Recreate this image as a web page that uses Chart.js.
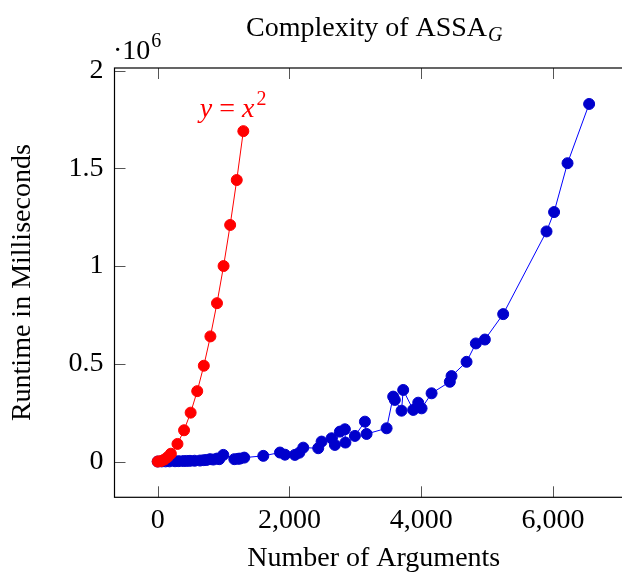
<!DOCTYPE html>
<html>
<head>
<meta charset="utf-8">
<script src="https://cdn.jsdelivr.net/npm/chart.js@4"></script>
<style>
  html, body { margin: 0; padding: 0; background: #fff; overflow: hidden; }
  #wrap { width: 660px; height: 573px; }
</style>
</head>
<body>
<div id="wrap"><canvas id="chart"></canvas></div>
<script>
// Measured runtimes (ms) against number of arguments
const argCounts = [0, 60, 120, 180, 263, 320, 389, 440, 490, 560, 642, 700, 743, 794, 844, 900, 935, 996,
  1163, 1220, 1249, 1314, 1603, 1856, 1932, 2083, 2150, 2210, 2437, 2488, 2640, 2690, 2766, 2842, 2850,
  2994, 3146, 3171, 3475, 3575, 3600, 3702, 3727, 3879, 3955, 4006, 4158, 4435, 4461, 4689, 4830, 4967,
  5245, 5903, 6018, 6222, 6550];
const runtimes = [0, 500, 800, 1000, 1500, 2000, 2500, 3000, 3500, 4000, 5000, 7000, 8000, 12000, 10000, 15000, 12000, 34000,
  12000, 14000, 15000, 20000, 29000, 46000, 35000, 34000, 45000, 71000, 68000, 102000, 119000, 85000, 153000, 165000, 97000,
  131000, 204000, 141000, 170000, 332000, 315000, 260000, 366000, 264000, 301000, 272000, 349000, 408000, 437000, 510000, 604000, 624000,
  754000, 1177000, 1276000, 1526000, 1829000];

// Reference curve y = x^2
const quadX = [0, 50, 100, 150, 200, 300, 400, 500, 600, 700, 800, 900, 1000, 1100, 1200, 1300];
const quadY = [0, 2500, 10000, 22500, 40000, 90000, 160000, 250000, 360000, 490000, 640000, 810000, 1000000, 1210000, 1440000, 1690000];

const xTicks = [0, 2000, 4000, 6000];
const yTicks = [0, 500000, 1000000, 1500000, 2000000];

const SERIF = '"Liberation Serif", "Times New Roman", serif';
const FS = 28;

function toPoints(xs, ys) {
  return xs.map((x, i) => ({ x, y: ys[i] }));
}

// frame, inward ticks, title, exponent and the y = x^2 label
const decorations = {
  id: 'decorations',
  afterDraw(chart) {
    const { ctx, chartArea: a, scales } = chart;
    const xs = scales.x, ys = scales.y;
    const TL = 11;
    ctx.save();
    ctx.strokeStyle = '#555';
    ctx.lineWidth = 1;
    ctx.beginPath();
    for (const v of xTicks) {
      const px = Math.round(xs.getPixelForValue(v)) + 0.5;
      ctx.moveTo(px, a.bottom); ctx.lineTo(px, a.bottom - TL);
      ctx.moveTo(px, a.top); ctx.lineTo(px, a.top + TL);
    }
    for (const v of yTicks) {
      const py = Math.round(ys.getPixelForValue(v)) + 0.5;
      ctx.moveTo(a.left, py); ctx.lineTo(a.left + TL, py);
      ctx.moveTo(a.right, py); ctx.lineTo(a.right - TL, py);
    }
    ctx.stroke();
    ctx.strokeStyle = '#000';
    ctx.lineWidth = 1.2;
    ctx.strokeRect(a.left, a.top, a.right - a.left, a.bottom - a.top);

    // title with subscript
    ctx.fillStyle = '#000';
    ctx.textBaseline = 'alphabetic';
    ctx.textAlign = 'left';
    const main = 'Complexity of ASSA';
    const subSize = Math.round(FS * 0.72);
    ctx.font = FS + 'px ' + SERIF;
    const wMain = ctx.measureText(main).width;
    ctx.font = 'italic ' + subSize + 'px ' + SERIF;
    const wSub = ctx.measureText('G').width;
    const tx = (a.left + a.right) / 2 - (wMain + wSub) / 2;
    ctx.font = FS + 'px ' + SERIF;
    ctx.fillText(main, tx, 36);
    ctx.font = 'italic ' + subSize + 'px ' + SERIF;
    ctx.fillText('G', tx + wMain + 1, 41);

    // exponent marker
    ctx.font = FS + 'px ' + SERIF;
    ctx.fillText('\u00b710', 113, 59);
    const w10 = ctx.measureText('\u00b710').width;
    ctx.font = subSize + 'px ' + SERIF;
    ctx.fillText('6', 113 + w10 + 1, 47);

    // y = x^2 label
    ctx.fillStyle = '#ff0000';
    let lx = xs.getPixelForValue(640);
    const ly = ys.getPixelForValue(1760000);
    const parts = [['italic ', 'y'], ['', ' = '], ['italic ', 'x']];
    for (const [st, t] of parts) {
      ctx.font = st + FS + 'px ' + SERIF;
      ctx.fillText(t, lx, ly);
      lx += ctx.measureText(t).width;
    }
    ctx.font = subSize + 'px ' + SERIF;
    ctx.fillText('2', lx + 2, ly - 12);
    ctx.restore();
  }
};

new Chart(document.getElementById('chart'), {
  type: 'line',
  data: {
    datasets: [
      {
        label: 'ASSA_G',
        data: toPoints(argCounts, runtimes),
        borderColor: '#0000ff',
        backgroundColor: '#0000cc',
        pointBackgroundColor: '#0000cc',
        pointBorderColor: '#0000cc',
        borderWidth: 1,
        pointRadius: 5.5,
        pointBorderWidth: 1,
        order: 1
      },
      {
        label: 'y = x^2',
        data: toPoints(quadX, quadY),
        borderColor: '#ff0000',
        backgroundColor: '#ff0000',
        pointBackgroundColor: '#ff0000',
        pointBorderColor: '#ff0000',
        borderWidth: 1,
        pointRadius: 5.5,
        pointBorderWidth: 1,
        order: 0
      }
    ]
  },
  options: {
    responsive: true,
    maintainAspectRatio: false,
    animation: false,
    layout: { padding: { top: 68, right: 27, left: 0, bottom: 0 } },
    plugins: {
      legend: { display: false },
      tooltip: { enabled: false },
      title: { display: false }
    },
    scales: {
      x: {
        type: 'linear',
        min: -656,
        max: 7216,
        afterBuildTicks: (s) => { s.ticks = xTicks.map(v => ({ value: v })); },
        afterFit: (s) => { s.height = 75.7; },
        grid: { display: false, drawTicks: false },
        border: { display: false },
        ticks: {
          color: '#000',
          padding: 7,
          maxRotation: 0,
          font: { family: SERIF, size: FS },
          callback: (v) => v.toLocaleString('en-US')
        },
        title: {
          display: true,
          text: 'Number of Arguments',
          color: '#000',
          padding: { top: 0, bottom: -2 },
          font: { family: SERIF, size: FS }
        }
      },
      y: {
        type: 'linear',
        min: -183000,
        max: 2013000,
        afterBuildTicks: (s) => { s.ticks = yTicks.map(v => ({ value: v })); },
        afterFit: (s) => { s.width = 114.5; },
        grid: { display: false, drawTicks: false },
        border: { display: false },
        ticks: {
          color: '#000',
          padding: 11,
          font: { family: SERIF, size: FS },
          callback: (v) => String(v / 1e6)
        },
        title: {
          display: true,
          text: 'Runtime in Milliseconds',
          color: '#000',
          padding: { top: 6, bottom: 0 },
          font: { family: SERIF, size: FS }
        }
      }
    }
  },
  plugins: [decorations]
});
</script>
</body>
</html>
